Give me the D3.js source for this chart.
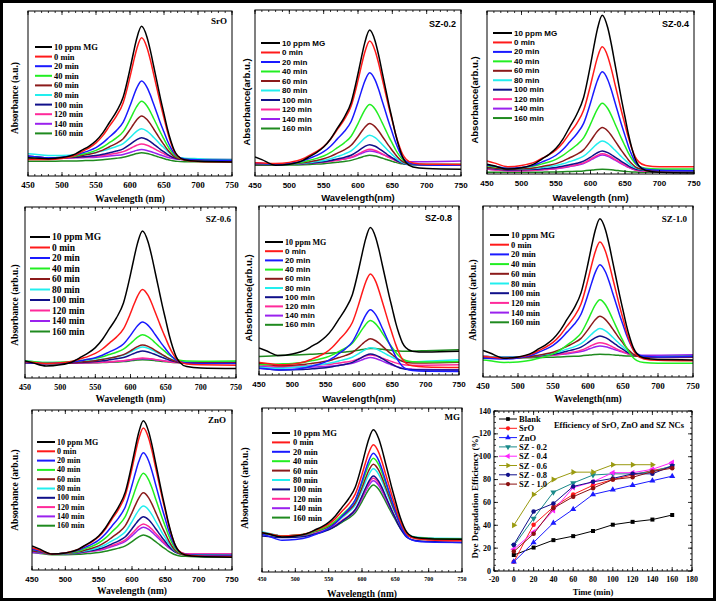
<!DOCTYPE html>
<html><head><meta charset="utf-8">
<script src="https://cdn.jsdelivr.net/npm/d3@7"></script>
<style>body{margin:0;background:#fff}svg{display:block}</style>
</head><body>
<script>
// ---------- DATA ----------
const wavelengths = [450,460,480,500,520,530,540,550,560,570,580,590,600,605,610,617,625,630,635,640,645,650,655,660,665,670,680,700,750];
const bandProfile = [0,0,0,0.01,0.04,0.07,0.10,0.14,0.20,0.28,0.36,0.47,0.68,0.80,0.91,1.0,0.92,0.82,0.70,0.58,0.46,0.35,0.24,0.15,0.08,0.04,0.01,0,0];
const legendLabels = ["10 ppm MG","0 min","20 min","40 min","60 min","80 min","100 min","120 min","140 min","160 min"];
const curveColors = ["#000000","#ff1a1a","#1a1aff","#22ee22","#8b1a1a","#22eeee","#10108a","#ff2a9a","#9a22ee","#1f8a1f"];
const panelNames = ["SrO","SZ-0.2","SZ-0.4","SZ-0.6","SZ-0.8","SZ-1.0","ZnO","MG"];
const xTickValues = [450,500,550,600,650,700,750];
// peak absorbance (fraction of axis) of each curve, per panel
const peakValues = [
  [0.907,0.838,0.576,0.453,0.364,0.287,0.232,0.194,0.160,0.141],
  [0.879,0.813,0.622,0.431,0.316,0.245,0.189,0.161,0.151,0.125],
  [0.974,0.780,0.627,0.434,0.285,0.202,0.141,0.124,0.116,0.029],
  [0.860,0.518,0.327,0.253,0.193,0.181,0.158,0.117,0.113,0.107],
  [0.873,0.598,0.386,0.322,0.214,0.161,0.125,0.118,0.103,0.157],
  [0.926,0.789,0.657,0.452,0.355,0.283,0.240,0.201,0.181,0.133],
  [0.933,0.888,0.733,0.604,0.483,0.400,0.333,0.288,0.267,0.219],
  [0.867,0.776,0.724,0.694,0.657,0.629,0.586,0.571,0.557,0.531]
];
// baseline absorbance at 450 nm
const edgeBase = [
  [0.11,0.10,0.12,0.11,0.11,0.135,0.12,0.12,0.11,0.09],
  [0.115,0.08,0.075,0.075,0.07,0.075,0.07,0.075,0.08,0.065],
  [0.06,0.08,0.055,0.05,0.04,0.04,0.035,0.03,0.03,0.01],
  [0.10,0.095,0.09,0.10,0.09,0.10,0.09,0.09,0.09,0.09],
  [0.16,0.075,0.04,0.06,0.07,0.045,0.04,0.06,0.05,0.11],
  [0.155,0.12,0.11,0.10,0.11,0.12,0.12,0.12,0.12,0.115],
  [0.15,0.14,0.13,0.13,0.12,0.12,0.12,0.12,0.11,0.11],
  [0.24,0.24,0.23,0.235,0.235,0.245,0.22,0.235,0.235,0.24]
];
// baseline absorbance at 480 nm
const leftBase = [
  [0.105,0.10,0.11,0.11,0.11,0.125,0.11,0.11,0.11,0.09],
  [0.065,0.075,0.07,0.07,0.07,0.07,0.07,0.07,0.07,0.065],
  [0.03,0.045,0.035,0.035,0.03,0.03,0.025,0.02,0.02,0.01],
  [0.07,0.085,0.085,0.09,0.085,0.09,0.085,0.085,0.085,0.085],
  [0.115,0.06,0.03,0.065,0.055,0.04,0.03,0.05,0.045,0.115],
  [0.11,0.11,0.105,0.085,0.11,0.115,0.115,0.115,0.115,0.11],
  [0.10,0.10,0.10,0.10,0.10,0.10,0.10,0.10,0.10,0.095],
  [0.214,0.22,0.194,0.22,0.22,0.22,0.21,0.22,0.22,0.22]
];
// baseline absorbance at 750 nm
const rightBase = [
  [0.085,0.085,0.095,0.095,0.09,0.10,0.095,0.10,0.095,0.085],
  [0.04,0.07,0.065,0.07,0.065,0.065,0.065,0.07,0.09,0.07],
  [0.006,0.045,0.02,0.03,0.02,0.02,0.02,0.015,0.015,0.01],
  [0.055,0.075,0.085,0.10,0.09,0.095,0.09,0.09,0.095,0.09],
  [0.14,0.045,0.02,0.08,0.075,0.09,0.03,0.06,0.03,0.15],
  [0.10,0.095,0.12,0.08,0.115,0.12,0.12,0.12,0.13,0.125],
  [0.08,0.085,0.09,0.09,0.085,0.09,0.09,0.10,0.10,0.08],
  [0.20,0.19,0.18,0.20,0.20,0.205,0.18,0.20,0.20,0.20]
];
// efficiency panel
const timePoints = [0,20,40,60,80,100,120,140,160];
const effNames = ["Blank","SrO","ZnO","SZ - 0.2","SZ - 0.4","SZ - 0.6","SZ - 0.8","SZ - 1.0"];
const effColors = ["#000000","#ff1a1a","#1a1aff","#1a8a8a","#ff22ff","#9a9a10","#10108a","#8b1010"];
const effSymbols = ["square","circle","up","down","left","right","circle","circle"];
const effBlank = [14,20.5,27,30.5,35,40.5,43,45,49];
const effSrO = [8,40.5,56,67,75,80,84,88,91];
const effZnO = [8,25,42,54,67,71,75,79,83];
const effSZ02 = [22,46,69,77,84,85,85,87,92];
const effSZ04 = [19,34,53,73,78,86,86,89,95];
const effSZ06 = [40,67,80,86.5,86.5,93,93,93];
const effSZ08 = [23,52,59,74,78,81,85,85,92];
const effSZ10 = [17,32.5,55,65,72.5,80,82,87,90];
const effSeries = [effBlank,effSrO,effZnO,effSZ02,effSZ04,effSZ06,effSZ08,effSZ10];
const effXTicks = [-20,0,20,40,60,80,100,120,140,160,180];
const effYTicks = [0,20,40,60,80,100,120,140];

// ---------- LAYOUT ----------
const SERIF = "'Liberation Serif','Times New Roman',serif";
const SANS = "'Liberation Sans',Arial,sans-serif";
const layout = [
  {L:28,R:232,T:11,B:176, tickFont:SERIF, tickSize:9, xt:"Wavelength (nm)", xtY:202, yt:"Absorbance (a.u.)", ytX:15, ytY:98, tf:SERIF,
   lg:{x0:35,x1:52,tx:54,y0:47,dy:9.6,fs:8.5,f:SERIF}, nm:{x:227,y:24,f:SERIF}},
  {L:255,R:461,T:10,B:176, tickFont:SANS, tickSize:8, xt:"Wavelength(nm)", xtY:201, yt:"Absorbance(arb.u.)", ytX:246, ytY:102, tf:SANS,
   lg:{x0:261,x1:280,tx:282,y0:43,dy:9.5,fs:8,f:SANS}, nm:{x:456,y:27,f:SANS}},
  {L:487,R:694,T:11,B:174, tickFont:SANS, tickSize:8, xt:"Wavelength (nm)", xtY:201, yt:"Absorbance(arb.u.)", ytX:474, ytY:100, tf:SANS,
   lg:{x0:493,x1:512,tx:514,y0:33,dy:9.45,fs:8,f:SANS}, nm:{x:689,y:27,f:SANS}},
  {L:25,R:236,T:207,B:378, tickFont:SERIF, tickSize:8, xt:"Wavelength (nm)", xtY:402, yt:"Absorbance (arb.u.)", ytX:15, ytY:305, tf:SERIF,
   lg:{x0:30,x1:50,tx:52,y0:237,dy:10.5,fs:9.5,f:SERIF}, nm:{x:231,y:222,f:SERIF}},
  {L:259,R:459,T:206,B:375, tickFont:SANS, tickSize:8, xt:"Wavelength(nm)", xtY:402, yt:"Absorbance(arb.u.)", ytX:248, ytY:298, tf:SANS,
   lg:{x0:265,x1:283,tx:285,y0:242,dy:9.2,fs:8,f:SANS}, nm:{x:452,y:221,f:SANS}},
  {L:483,R:693,T:206,B:377, tickFont:SERIF, tickSize:9, xt:"Wavelength(nm)", xtY:402, yt:"Absorbance (arb.u.)", ytX:473, ytY:300, tf:SERIF,
   lg:{x0:490,x1:509,tx:511,y0:235,dy:9.7,fs:8.5,f:SERIF}, nm:{x:687,y:222,f:SERIF}},
  {L:32,R:232,T:410,B:570, tickFont:SANS, tickSize:8, xt:"Wavelength (nm)", xtY:594, yt:"Absorbance (arb.u.)", ytX:15, ytY:490, tf:SERIF,
   lg:{x0:37,x1:55,tx:57,y0:442,dy:9.3,fs:8,f:SERIF}, nm:{x:226,y:423,f:SERIF}},
  {L:262,R:462,T:408,B:572, tickFont:SERIF, tickSize:6, xt:"Wavelength (nm)", xtY:597, yt:"Absorbance (arb.u.)", ytX:245, ytY:488, tf:SERIF,
   lg:{x0:272,x1:290,tx:293,y0:433,dy:9.4,fs:8.5,f:SERIF}, nm:{x:460,y:420,f:SERIF}}
];
const effLayout = {L:494,R:692,T:411,B:571};

const W = 719, H = 603;
const svg = d3.select("body").append("svg").attr("width",W).attr("height",H);
svg.append("rect").attr("width",W).attr("height",H).attr("fill","#fff");

function baseAt(e,l,r,w){
  if (w <= 480) return e + (l - e) * (w - 450) / 30;
  return l + (r - l) * (w - 480) / 270;
}

function drawTicks(g, scale, vals, y, dir, len){
  g.selectAll(null).data(vals).join("line")
    .attr("x1",d=>scale(d)).attr("x2",d=>scale(d))
    .attr("y1",y).attr("y2",y+dir*len).attr("stroke","#000").attr("stroke-width",0.8);
}
function drawVTicks(g, scale, vals, x, dir, len){
  g.selectAll(null).data(vals).join("line")
    .attr("y1",d=>scale(d)).attr("y2",d=>scale(d))
    .attr("x1",x).attr("x2",x+dir*len).attr("stroke","#000").attr("stroke-width",0.8);
}

const minorW = d3.range(450,751,10);

layout.forEach((p,pi)=>{
  const g = svg.append("g");
  const x = d3.scaleLinear().domain([450,750]).range([p.L,p.R]);
  const y = d3.scaleLinear().domain([0,1]).range([p.B,p.T]);
  const clipId = "clip"+pi;
  svg.append("clipPath").attr("id",clipId).append("rect")
    .attr("x",p.L).attr("y",p.T).attr("width",p.R-p.L).attr("height",p.B-p.T);
  const line = d3.line().x(d=>x(d[0])).y(d=>y(d[1])).curve(d3.curveMonotoneX);
  const cg = g.append("g").attr("clip-path",`url(#${clipId})`);
  for (let c = legendLabels.length-1; c >= 0; c--) {
    const e = edgeBase[pi][c], l = leftBase[pi][c], r = rightBase[pi][c];
    const pk = peakValues[pi][c];
    const b617 = baseAt(e,l,r,617);
    const pts = wavelengths.map((w,i)=>[w, baseAt(e,l,r,w) + (pk - b617) * bandProfile[i]]);
    cg.append("path").attr("d",line(pts)).attr("fill","none")
      .attr("stroke",curveColors[c]).attr("stroke-width",1.5);
  }
  // frame
  g.append("rect").attr("x",p.L).attr("y",p.T).attr("width",p.R-p.L).attr("height",p.B-p.T)
    .attr("fill","none").attr("stroke","#000").attr("stroke-width",1);
  // ticks
  drawTicks(g,x,minorW,p.B,-1,2);
  drawTicks(g,x,xTickValues,p.B,-1,4);
  drawTicks(g,x,minorW,p.T,1,2);
  drawTicks(g,x,xTickValues,p.T,1,4);
  g.selectAll(null).data(xTickValues).join("text")
    .attr("x",d=>x(d)).attr("y",p.B + (p.tickSize>=8 ? 11.5 : 9))
    .attr("text-anchor","middle").attr("font-family",p.tickFont)
    .attr("font-weight","bold").attr("font-size",p.tickSize).text(d=>d);
  // axis titles
  g.append("text").attr("x",(p.L+p.R)/2).attr("y",p.xtY).attr("text-anchor","middle")
    .attr("font-family",p.tf).attr("font-weight","bold").attr("font-size",9.5).text(p.xt);
  g.append("text").attr("transform",`translate(${p.ytX},${p.ytY}) rotate(-90)`)
    .attr("text-anchor","middle").attr("dominant-baseline","central")
    .attr("font-family",p.tf).attr("font-weight","bold").attr("font-size",9.5).text(p.yt);
  // panel name
  g.append("text").attr("x",p.nm.x).attr("y",p.nm.y).attr("text-anchor","end")
    .attr("font-family",p.nm.f).attr("font-weight","bold").attr("font-size",9).text(panelNames[pi]);
  // legend
  const lg = p.lg;
  legendLabels.forEach((lab,i)=>{
    const yy = lg.y0 + i*lg.dy;
    g.append("line").attr("x1",lg.x0).attr("x2",lg.x1).attr("y1",yy).attr("y2",yy)
      .attr("stroke",curveColors[i]).attr("stroke-width",2);
    g.append("text").attr("x",lg.tx).attr("y",yy).attr("dominant-baseline","central")
      .attr("font-family",(pi===4 && i===0)?SERIF:lg.f).attr("font-weight","bold")
      .attr("font-size",lg.fs).text(lab);
  });
});

// ---------- efficiency panel ----------
(function(){
  const p = effLayout;
  const g = svg.append("g");
  const x = d3.scaleLinear().domain([-20,180]).range([p.L,p.R]);
  const y = d3.scaleLinear().domain([0,140]).range([p.B,p.T]);
  const line = d3.line().x((d,i)=>x(timePoints[i])).y(d=>y(d));
  const symType = {square:d3.symbolSquare, circle:d3.symbolCircle, up:d3.symbolTriangle,
                   down:d3.symbolTriangle, left:d3.symbolTriangle, right:d3.symbolTriangle};
  const rot = {square:0,circle:0,up:0,down:180,left:-90,right:90};
  function sym(sel,k,cx,cy,size){
    sel.append("path").attr("d",d3.symbol().type(symType[effSymbols[k]]).size(size)())
      .attr("transform",`translate(${cx},${cy}) rotate(${rot[effSymbols[k]]})`)
      .attr("fill",effColors[k]);
  }
  effSeries.forEach((s,k)=>{
    g.append("path").attr("d",line(s)).attr("fill","none").attr("stroke",effColors[k]).attr("stroke-width",1);
    s.forEach((v,i)=>sym(g,k,x(timePoints[i]),y(v),16));
  });
  g.append("rect").attr("x",p.L).attr("y",p.T).attr("width",p.R-p.L).attr("height",p.B-p.T)
    .attr("fill","none").attr("stroke","#000").attr("stroke-width",1);
  const xMinor = d3.range(-20,181,5), yMinor = d3.range(0,141,5);
  drawTicks(g,x,xMinor,p.B,-1,2); drawTicks(g,x,effXTicks,p.B,-1,4);
  drawTicks(g,x,xMinor,p.T,1,2); drawTicks(g,x,effXTicks,p.T,1,4);
  drawVTicks(g,y,yMinor,p.L,1,2); drawVTicks(g,y,effYTicks,p.L,1,4);
  drawVTicks(g,y,yMinor,p.R,-1,2); drawVTicks(g,y,effYTicks,p.R,-1,4);
  g.selectAll(null).data(effXTicks).join("text").attr("x",d=>x(d)).attr("y",p.B+10.5)
    .attr("text-anchor","middle").attr("font-family",SERIF).attr("font-weight","bold")
    .attr("font-size",8).text(d=>d);
  g.selectAll(null).data(effYTicks).join("text").attr("x",p.L-3).attr("y",d=>y(d))
    .attr("text-anchor","end").attr("dominant-baseline","central").attr("font-family",SERIF)
    .attr("font-weight","bold").attr("font-size",8).text(d=>d);
  g.append("text").attr("x",(p.L+p.R)/2).attr("y",595).attr("text-anchor","middle")
    .attr("font-family",SERIF).attr("font-weight","bold").attr("font-size",8.5).text("Time (min)");
  g.append("text").attr("transform",`translate(475,497) rotate(-90)`).attr("text-anchor","middle")
    .attr("dominant-baseline","central").attr("font-family",SERIF).attr("font-weight","bold")
    .attr("font-size",9).text("Dye Degradation Efficiency (%)");
  g.append("text").attr("x",684).attr("y",428).attr("text-anchor","end").attr("font-family",SERIF)
    .attr("font-weight","bold").attr("font-size",8.5).text("Efficiency of SrO, ZnO and SZ NCs");
  effNames.forEach((nm,k)=>{
    const yy = 419 + k*9.3;
    g.append("line").attr("x1",499).attr("x2",517).attr("y1",yy).attr("y2",yy).attr("stroke",effColors[k]).attr("stroke-width",1);
    sym(g,k,508,yy,14);
    g.append("text").attr("x",519).attr("y",yy).attr("dominant-baseline","central").attr("font-family",SERIF)
      .attr("font-weight","bold").attr("font-size",8.5).text(nm);
  });
})();

// outer frame
svg.append("rect").attr("x",1.5).attr("y",1.5).attr("width",713).attr("height",598)
  .attr("fill","none").attr("stroke","#000").attr("stroke-width",3);
</script>
</body></html>
